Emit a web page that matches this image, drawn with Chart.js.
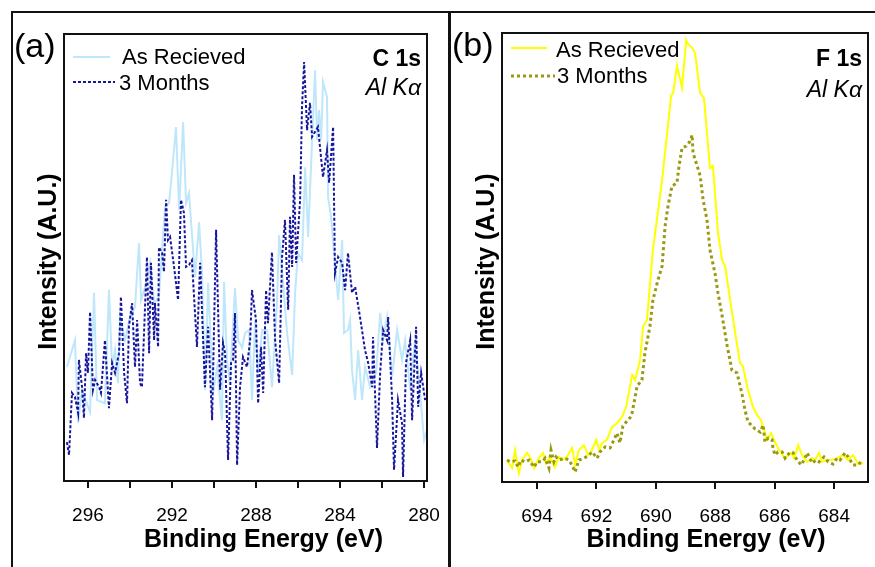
<!DOCTYPE html>
<html>
<head>
<meta charset="utf-8">
<script src="https://cdn.jsdelivr.net/npm/chart.js@4.4.1/dist/chart.umd.min.js"></script>
<style>
  html, body { margin: 0; padding: 0; background: #fff; }
  #page { position: relative; width: 875px; height: 567px; overflow: hidden; }
  canvas { position: absolute; top: 0; }
  #cvA { left: 0; }
  #cvB { left: 450px; }
  .frame { position: absolute; background: #111; }
</style>
</head>
<body>
<div id="page">
  <div class="frame" style="left:11px; top:11px; width:864px; height:2px;"></div>
  <div class="frame" style="left:11px; top:11px; width:2px; height:556px;"></div>
  <div class="frame" style="left:448px; top:11px; width:3px; height:556px;"></div>
  <canvas id="cvA" width="450" height="567"></canvas>
  <canvas id="cvB" width="425" height="567"></canvas>
</div>
<script>
// C 1s spectrum, panel (a)
const c1sEnergyAR = [297.00,296.62,296.47,296.28,295.90,295.71,295.57,295.19,295.00,294.85,294.71,294.57,294.47,294.24,294.00,293.76,293.57,293.47,293.28,293.04,292.85,292.62,292.47,292.33,292.14,292.00,291.81,291.66,291.47,291.33,291.19,290.90,290.71,290.57,290.43,290.28,290.04,289.85,289.62,289.52,289.38,289.24,289.00,288.85,288.66,288.52,288.33,288.19,288.04,287.90,287.71,287.47,287.24,287.00,286.90,286.71,286.52,286.28,286.14,286.00,285.81,285.66,285.52,285.19,285.09,285.00,284.90,284.81,284.62,284.57,284.43,284.09,283.90,283.81,283.62,283.52,283.43,283.28,283.14,282.95,282.81,282.57,282.28,282.09,281.95,281.76,281.52,281.28,281.05,280.90,280.66,280.43,280.19,280.00,279.86];
const c1sAsReceived = [25.5,31.5,13.0,20.4,15.4,42.1,18.1,17.4,42.7,25.5,29.3,21.9,36.7,31.5,36.7,38.9,53.2,40.5,43.4,48.8,39.8,41.2,51.7,61.3,62.2,68.9,79.2,60.6,80.3,62.2,64.4,45.6,57.9,46.5,20.4,44.3,19.7,25.5,13.6,44.5,27.1,21.9,43.2,31.5,29.8,33.1,33.8,18.1,36.0,24.2,33.8,33.8,21.0,39.8,55.0,44.3,33.1,23.7,42.1,51.0,49.4,70.2,54.6,91.9,76.3,83.0,76.3,89.3,85.9,63.5,59.1,40.5,53.9,33.1,33.8,36.0,24.8,18.1,29.3,18.1,25.5,21.0,24.2,37.6,31.5,36.7,23.3,33.8,27.1,31.5,20.4,31.5,19.7,9.2,11.4];
const c1sEnergy3M = [297.00,296.90,296.76,296.62,296.47,296.43,296.28,296.19,296.09,296.00,295.90,295.76,295.66,295.47,295.38,295.19,295.00,294.85,294.71,294.52,294.43,294.28,294.14,294.05,293.90,293.76,293.66,293.52,293.43,293.19,293.09,293.00,292.85,292.81,292.66,292.62,292.47,292.38,292.28,292.19,292.09,291.90,291.71,291.57,291.43,291.33,291.19,291.05,290.81,290.66,290.43,290.28,290.09,289.90,289.71,289.57,289.47,289.33,289.19,289.09,289.00,288.90,288.76,288.62,288.43,288.28,288.19,288.00,287.90,287.76,287.66,287.52,287.43,287.24,287.09,286.90,286.76,286.62,286.47,286.38,286.28,286.19,286.09,285.90,285.81,285.71,285.57,285.43,285.33,285.05,284.81,284.62,284.52,284.33,284.24,284.09,283.90,283.76,283.62,283.43,283.28,283.05,282.81,282.66,282.47,282.43,282.24,282.09,281.95,281.76,281.71,281.52,281.43,281.24,281.05,281.00,280.86,280.66,280.57,280.38,280.28,280.14,279.95];
const c1s3Months = [8.7,5.8,19.7,18.8,15.2,27.1,21.0,14.1,28.6,24.2,37.8,20.4,22.6,21.0,19.7,31.5,16.3,26.4,24.2,28.6,41.2,24.2,17.4,34.5,39.8,25.5,36.0,21.9,21.0,50.1,28.6,48.8,31.5,39.8,30.0,52.3,51.0,46.8,62.9,53.9,54.6,47.9,40.5,62.9,60.0,47.9,48.3,49.4,30.0,48.8,21.0,34.5,13.6,56.2,20.4,30.9,28.6,4.7,26.4,27.1,37.6,3.6,21.0,27.7,25.5,31.5,42.7,36.0,17.4,30.0,19.7,42.7,35.3,51.2,31.5,21.9,50.1,58.4,38.3,59.1,47.9,68.5,48.8,62.9,83.7,93.7,78.5,84.6,77.0,79.2,68.0,74.0,66.7,79.2,46.5,50.1,48.8,42.7,51.0,42.1,43.4,36.7,29.3,26.4,21.0,32.2,7.4,24.2,33.8,31.5,36.7,18.1,2.5,18.1,13.0,0.9,26.4,31.5,13.6,34.5,16.6,24.2,18.1];
const c1sRange = [279.86, 297.14];
const c1sTickLabels = [296, 292, 288, 284, 280];

// F 1s spectrum, panel (b)
const f1sEnergyAR = [695.01,694.84,694.74,694.61,694.50,694.34,694.24,694.10,693.94,693.80,693.70,693.56,693.40,693.26,693.16,692.99,692.82,692.72,692.59,692.42,692.28,692.18,692.01,691.91,691.81,691.65,691.48,691.31,691.14,691.00,690.80,690.70,690.53,690.43,690.30,690.10,689.79,689.62,689.49,689.42,689.29,689.12,688.98,688.95,688.78,688.68,688.51,688.38,688.28,688.18,688.08,687.91,687.77,687.67,687.50,687.33,687.17,687.07,686.90,686.73,686.59,686.46,686.39,686.26,686.12,685.99,685.85,685.65,685.45,685.35,685.21,685.08,684.91,684.74,684.64,684.51,684.41,684.24,684.07,683.90,683.70,683.53,683.36,683.19,683.02];
const f1sAsReceived = [4.9,3.1,7.1,2.0,4.9,6.5,5.6,3.1,5.3,6.5,4.2,5.6,3.3,5.6,4.9,5.6,7.6,3.8,7.1,8.2,6.0,6.7,9.4,7.1,8.7,9.4,12.2,13.1,14.5,16.7,23.8,22.7,27.2,34.7,36.1,51.7,67.3,77.7,86.0,86.6,92.7,87.8,98.4,97.8,96.7,95.5,86.6,85.5,77.7,69.9,70.4,55.5,49.4,48.1,40.5,33.2,26.5,25.8,20.5,16.7,14.9,13.8,12.2,9.4,10.9,8.9,7.1,5.3,6.5,5.3,8.2,6.0,4.5,5.3,4.9,6.5,4.5,4.9,4.9,5.3,6.0,4.9,6.0,4.0,4.2];
const f1sEnergy3M = [695.01,694.91,694.74,694.64,694.54,694.41,694.27,694.10,694.00,693.83,693.73,693.60,693.53,693.43,693.36,693.26,693.09,692.92,692.79,692.72,692.59,692.42,692.25,692.15,691.98,691.88,691.71,691.54,691.41,691.31,691.21,691.11,690.87,690.80,690.63,690.47,690.37,690.20,690.10,689.93,689.79,689.69,689.59,689.46,689.29,689.22,689.12,688.98,688.85,688.78,688.75,688.61,688.51,688.41,688.28,688.18,688.01,687.91,687.77,687.60,687.44,687.27,687.10,687.00,686.90,686.66,686.49,686.39,686.33,686.22,686.09,686.06,685.99,685.89,685.75,685.65,685.48,685.38,685.25,685.11,684.98,684.91,684.74,684.61,684.51,684.34,684.20,684.04,683.90,683.80,683.63,683.53,683.36,683.19,683.05];
const f1s3Months = [4.9,4.5,4.7,3.3,4.9,4.5,4.9,3.3,4.5,4.5,5.3,3.1,7.1,4.5,5.6,4.9,5.3,4.9,3.3,2.2,4.9,5.3,6.0,6.7,5.3,6.7,7.8,7.6,9.4,10.9,8.7,12.5,14.3,15.4,21.4,22.7,28.7,34.7,40.5,45.0,48.1,57.0,61.5,65.9,66.6,70.4,74.4,74.8,75.9,77.3,73.3,70.4,68.2,62.8,58.4,51.7,46.5,42.1,37.0,30.3,24.9,24.3,19.6,16.0,13.4,11.8,11.1,12.7,8.9,9.8,9.4,7.6,6.0,6.7,6.7,5.3,6.7,6.5,4.9,3.8,5.3,6.5,4.2,4.9,4.5,5.6,4.5,4.0,5.3,4.9,6.5,5.6,3.8,3.8,4.9];
const f1sRange = [682.86, 695.18];
const f1sTickLabels = [694, 692, 690, 688, 686, 684];

const seriesNames = ["As Recieved", "3 Months"];

const FONT = "'Liberation Sans', Arial, Helvetica, sans-serif";
Chart.defaults.font.family = FONT;
Chart.defaults.color = "#000";

function pts(xs, ys) {
  return xs.map((x, i) => ({ x: x, y: ys[i] }));
}

// frame, legend and labels drawn on top of each panel
const panelDecor = {
  id: "panelDecor",
  afterDraw(chart, args, o) {
    const { ctx, chartArea: a } = chart;
    ctx.save();
    ctx.strokeStyle = "#111";
    ctx.lineWidth = 2;
    ctx.setLineDash([]);
    ctx.strokeRect(a.left, a.top, a.right - a.left, a.bottom - a.top);

    ctx.fillStyle = "#000";
    ctx.textBaseline = "alphabetic";
    ctx.textAlign = "left";
    ctx.font = "34px " + FONT;
    ctx.fillText(o.letter, a.left - 50, a.top + 23);

    // legend
    chart.data.datasets.forEach((ds, i) => {
      const y = o.legendRows[i];
      ctx.strokeStyle = ds.borderColor;
      ctx.lineWidth = ds.borderWidth;
      ctx.setLineDash(ds.borderDash || []);
      ctx.beginPath();
      ctx.moveTo(a.left + 9, y);
      ctx.lineTo(a.left + o.sampleLen[i], y);
      ctx.stroke();
      ctx.setLineDash([]);
      ctx.font = "22px " + FONT;
      ctx.fillText(ds.label, a.left + o.textX[i], o.textRows[i] + 8);
    });

    ctx.textAlign = "right";
    ctx.font = "bold 23px " + FONT;
    ctx.fillText(o.core, a.right - 6, 66);
    ctx.font = "italic 23px " + FONT;
    ctx.fillText("Al K\u03b1", a.right - 6, o.sourceY);

    // axis titles
    ctx.font = "bold 25px " + FONT;
    ctx.textAlign = "center";
    ctx.fillText("Binding Energy (eV)", (a.left + a.right) / 2 + o.titleShift, 547);
    ctx.translate(a.left - 15, (a.top + a.bottom) / 2 + 4);
    ctx.rotate(-Math.PI / 2);
    ctx.textBaseline = "middle";
    ctx.fillText("Intensity (A.U.)", 0, 0);
    ctx.restore();
  }
};

function makeChart(id, cfg) {
  return new Chart(document.getElementById(id), {
    type: "line",
    data: {
      datasets: [
        {
          label: seriesNames[0],
          data: pts(cfg.eAR, cfg.iAR),
          borderColor: cfg.colors[0],
          borderWidth: 2,
          pointRadius: 0,
          tension: 0,
          order: 2
        },
        {
          label: seriesNames[1],
          data: pts(cfg.e3M, cfg.i3M),
          borderColor: cfg.colors[1],
          borderWidth: cfg.dashWidth,
          borderDash: cfg.dash,
          pointRadius: 0,
          tension: 0,
          order: 1
        }
      ]
    },
    options: {
      responsive: false,
      animation: false,
      devicePixelRatio: 1,
      layout: { padding: cfg.padding },
      plugins: {
        legend: { display: false },
        tooltip: { enabled: false },
        panelDecor: cfg.decor
      },
      scales: {
        x: {
          type: "linear",
          reverse: true,
          min: cfg.range[0],
          max: cfg.range[1],
          // fixed axis band; no extra room for edge labels
          afterFit: s => { s.height = cfg.axisHeight; s.paddingLeft = 0; s.paddingRight = 0; },
          border: { display: false },
          grid: { display: true, drawOnChartArea: false, drawTicks: true, tickLength: 7, color: "#111", lineWidth: 2 },
          ticks: {
            stepSize: 2,
            includeBounds: false,
            autoSkip: false,
            maxRotation: 0,
            padding: 16,
            color: "#000",
            font: { size: 19 },
            callback: v => (cfg.labels.includes(v) ? String(v) : "")
          }
        },
        y: { display: false, min: 0, max: 100 }
      }
    },
    plugins: [panelDecor]
  });
}

makeChart("cvA", {
  eAR: c1sEnergyAR, iAR: c1sAsReceived, e3M: c1sEnergy3M, i3M: c1s3Months,
  colors: ["#bfe7fb", "#15159e"],
  dash: [3, 2], dashWidth: 2,
  range: c1sRange, labels: c1sTickLabels,
  padding: { left: 64, top: 34, right: 23, bottom: 0 },
  axisHeight: 86,
  decor: { letter: "(a)", core: "C 1s", sourceY: 95, legendRows: [57, 82], sampleLen: [46, 51], textX: [58, 55], textRows: [56, 82], titleShift: 18 }
});

makeChart("cvB", {
  eAR: f1sEnergyAR, iAR: f1sAsReceived, e3M: f1sEnergy3M, i3M: f1s3Months,
  colors: ["#ffff00", "#9a9a12"],
  dash: [3, 3], dashWidth: 3,
  range: f1sRange, labels: f1sTickLabels,
  padding: { left: 52, top: 33, right: 7, bottom: 0 },
  axisHeight: 85,
  decor: { letter: "(b)", core: "F 1s", sourceY: 97, legendRows: [48, 76], sampleLen: [45, 53], textX: [54, 55], textRows: [49, 75], titleShift: 21 }
});
</script>
</body>
</html>
